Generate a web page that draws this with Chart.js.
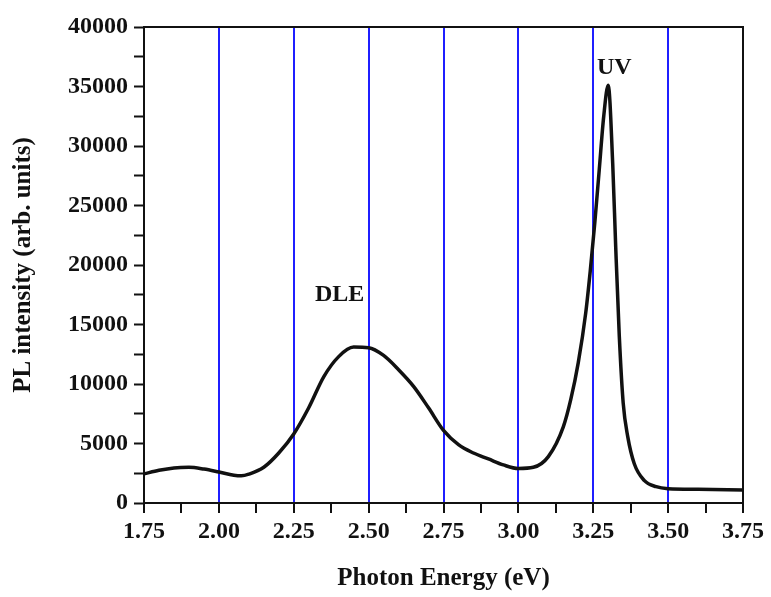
<!DOCTYPE html>
<html>
<head>
<meta charset="utf-8">
<script src="https://cdn.jsdelivr.net/npm/chart.js@4/dist/chart.umd.min.js"></script>
<style>
  html, body { margin: 0; padding: 0; background: #fff; }
  #wrap { width: 771px; height: 597px; }
</style>
</head>
<body>
<div id="wrap"><canvas id="plChart"></canvas></div>
<script>
// photon energy (eV) and PL intensity
const energy = [1.75, 1.80, 1.85, 1.90, 1.95, 2.00, 2.05, 2.075, 2.10, 2.15, 2.20, 2.25, 2.30, 2.35, 2.40, 2.45, 2.50,
  2.55, 2.60, 2.65, 2.70, 2.75, 2.80, 2.85, 2.90, 2.95, 3.00, 3.05, 3.10, 3.15, 3.175, 3.20, 3.225, 3.24, 3.255, 3.27,
  3.285, 3.30, 3.315, 3.325, 3.337, 3.35, 3.365, 3.387, 3.42, 3.46, 3.50, 3.60, 3.75];
const intensity = [2450, 2750, 2950, 3000, 2850, 2600, 2330, 2280, 2420, 3000, 4200, 5800, 8000, 10600, 12300, 13100, 13050,
  12400, 11200, 9800, 8000, 6100, 4900, 4200, 3700, 3200, 2900, 3000, 3900, 6400, 8700, 11800, 16000, 19500, 23500, 28000,
  32500, 35100, 28500, 21500, 14000, 8400, 5600, 3300, 1900, 1370, 1200, 1150, 1100];

// peak labels (text, energy, intensity)
const peakLabels = [
  { text: 'DLE', x: 2.403, y: 17500 },
  { text: 'UV', x: 3.32, y: 36600 }
];

const xMin = 1.75, xMax = 3.75, xStep = 0.125;
const yMin = 0, yMax = 40000, yStep = 2500;

const serif = '"Liberation Serif", "Times New Roman", serif';

const points = energy.map(function (e, i) { return { x: e, y: intensity[i] }; });

function isMajor(v, step) {
  return Math.abs(v / step - Math.round(v / step)) < 1e-6;
}

const framePlugin = {
  id: 'frame',
  afterDatasetsDraw: function (chart) {
    const a = chart.chartArea, c = chart.ctx;
    c.save();
    c.strokeStyle = '#111';
    c.lineWidth = 2;
    c.strokeRect(a.left, a.top, a.right - a.left, a.bottom - a.top);
    c.restore();
  }
};

const peakLabelPlugin = {
  id: 'peakLabels',
  afterDraw: function (chart) {
    const c = chart.ctx;
    c.save();
    c.font = 'bold 24px ' + serif;
    c.fillStyle = '#111';
    c.textAlign = 'center';
    c.textBaseline = 'middle';
    peakLabels.forEach(function (p) {
      c.fillText(p.text, chart.scales.x.getPixelForValue(p.x), chart.scales.y.getPixelForValue(p.y));
    });
    c.restore();
  }
};

new Chart(document.getElementById('plChart'), {
  type: 'scatter',
  data: {
    datasets: [{
      data: points,
      showLine: true,
      borderColor: '#111',
      borderWidth: 3.5,
      pointRadius: 0,
      cubicInterpolationMode: 'monotone',
      fill: false
    }]
  },
  options: {
    responsive: true,
    maintainAspectRatio: false,
    animation: false,
    layout: { padding: { top: 27, right: 28, left: 0, bottom: 0 } },
    plugins: {
      legend: { display: false },
      tooltip: { enabled: false }
    },
    scales: {
      x: {
        type: 'linear',
        min: xMin,
        max: xMax,
        afterFit: function (s) { s.height = 94; },
        afterBuildTicks: function (s) {
          const t = [];
          for (let v = xMin; v <= xMax + 1e-9; v += xStep) t.push({ value: v });
          s.ticks = t;
        },
        ticks: {
          autoSkip: false,
          maxRotation: 0,
          padding: 4,
          color: '#111',
          font: { family: serif, size: 24, weight: 'bold' },
          callback: function (v) { return isMajor(v - xMin, 0.25) ? v.toFixed(2) : ''; }
        },
        grid: {
          color: function (ctx) {
            const v = ctx.tick ? ctx.tick.value : null;
            if (v === null) return 'rgba(0,0,0,0)';
            if (isMajor(v - xMin, 0.25) && v > xMin + 1e-6 && v < xMax - 1e-6) return '#1f1fff';
            return 'rgba(0,0,0,0)';
          },
          lineWidth: 2,
          tickColor: '#111',
          tickWidth: 2,
          tickLength: 10
        },
        border: { color: '#111', width: 2 },
        title: {
          display: true,
          text: 'Photon Energy (eV)',
          color: '#111',
          font: { family: serif, size: 25, weight: 'bold' },
          padding: { top: 0, bottom: 3 }
        }
      },
      y: {
        type: 'linear',
        min: yMin,
        max: yMax,
        afterFit: function (s) { s.width = 144; },
        ticks: {
          stepSize: yStep,
          autoSkip: false,
          padding: 6,
          color: '#111',
          font: { family: serif, size: 24, weight: 'bold' },
          callback: function (v) { return isMajor(v, 5000) ? String(v) : ''; }
        },
        grid: {
          drawOnChartArea: false,
          tickColor: '#111',
          tickWidth: 2,
          tickLength: 10
        },
        border: { color: '#111', width: 2 },
        title: {
          display: true,
          text: 'PL intensity (arb. units)',
          color: '#111',
          font: { family: serif, size: 25, weight: 'bold' },
          padding: { top: 9, bottom: 0 }
        }
      }
    }
  },
  plugins: [framePlugin, peakLabelPlugin]
});
</script>
</body>
</html>
